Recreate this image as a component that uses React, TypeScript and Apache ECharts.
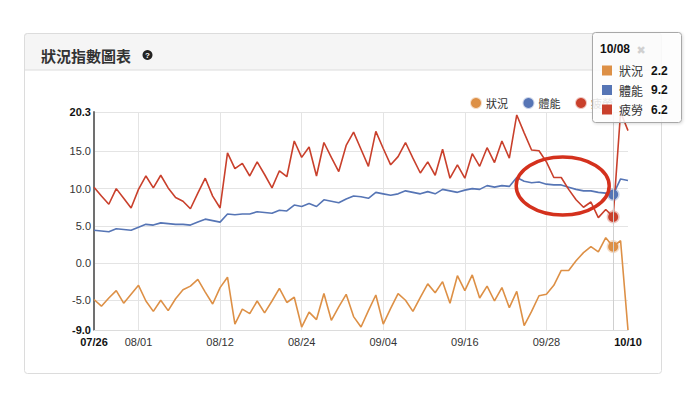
import React, { useEffect, useRef } from 'react';
import * as echarts from 'echarts';

const DATES = [
  '07/26', '07/27', '07/28', '07/29', '07/30', '07/31',
  '08/01', '08/02', '08/03', '08/04', '08/05', '08/06', '08/07', '08/08', '08/09', '08/10', '08/11',
  '08/12', '08/13', '08/14', '08/15', '08/16', '08/17', '08/19', '08/20', '08/21', '08/22', '08/23',
  '08/24', '08/25', '08/26', '08/27', '08/28', '08/29', '08/30', '08/31', '09/01', '09/02', '09/03',
  '09/04', '09/05', '09/06', '09/07', '09/08', '09/09', '09/11', '09/12', '09/13', '09/14', '09/15',
  '09/16', '09/17', '09/18', '09/19', '09/20', '09/21', '09/23', '09/24', '09/25', '09/26', '09/27',
  '09/28', '09/29', '09/30', '10/01', '10/02', '10/04', '10/05', '10/06', '10/07',
  '10/08', '10/09', '10/10',
];

// 狀況
const STATUS = [
  -4.9, -5.8, -4.7, -3.7, -5.4, -4.2, -3.0, -5.1, -6.5, -5.0,
  -6.4, -4.8, -3.6, -3.1, -2.2, -3.9, -5.5, -3.3, -1.9, -8.2,
  -6.2, -6.8, -5.1, -6.7, -5.1, -3.4, -5.3, -4.6, -8.6, -6.6,
  -7.6, -4.1, -7.7, -5.9, -4.2, -7.2, -8.6, -6.4, -4.3, -8.2,
  -6.1, -4.1, -5.0, -6.5, -4.6, -2.8, -4.0, -2.5, -5.4, -1.7,
  -3.7, -1.6, -4.7, -3.1, -5.1, -3.3, -6.0, -3.8, -8.4, -6.5,
  -4.4, -4.2, -3.0, -1.0, -1.0, 0.3, 1.4, 2.2, 1.5, 3.4,
  2.2, 3.0, -9.0,
];

// 體能
const FITNESS = [
  4.4, 4.3, 4.2, 4.6, 4.5, 4.4, 4.8, 5.2, 5.1, 5.4,
  5.3, 5.2, 5.2, 5.1, 5.5, 5.9, 5.7, 5.5, 6.6, 6.5,
  6.6, 6.6, 6.9, 6.8, 6.7, 7.1, 7.0, 7.8, 7.6, 8.0,
  7.6, 8.5, 8.3, 8.1, 8.6, 9.0, 8.9, 8.7, 9.5, 9.3,
  9.1, 9.3, 9.7, 9.5, 9.3, 9.6, 9.3, 9.9, 9.7, 9.5,
  9.8, 10.0, 9.9, 10.4, 10.2, 10.4, 10.3, 11.5, 11.0, 10.8,
  10.9, 10.6, 10.5, 10.5, 10.2, 9.9, 9.7, 9.7, 9.5, 9.4,
  9.2, 11.3, 11.1,
];

// 疲勞
const FATIGUE = [
  10.2, 9.0, 7.9, 10.0, 8.7, 7.4, 9.9, 11.7, 10.1, 11.8,
  10.1, 8.8, 8.3, 7.3, 9.4, 11.4, 9.0, 7.4, 14.8, 12.7,
  13.4, 11.7, 13.6, 11.9, 10.1, 12.4, 11.6, 16.4, 14.2, 15.6,
  11.7, 16.2, 14.2, 12.3, 15.8, 17.6, 15.3, 13.0, 17.7, 15.4,
  13.2, 14.3, 16.2, 14.1, 12.1, 13.6, 11.8, 15.3, 11.4, 13.2,
  11.4, 14.7, 13.0, 15.5, 13.5, 16.4, 14.1, 19.9, 17.5, 15.2,
  15.1, 13.6, 11.5, 11.5, 9.9, 8.5, 7.5, 8.2, 6.1, 7.2,
  6.2, 20.3, 17.8,
];

const SERIES_NAMES = ['狀況', '體能', '疲勞'];
const SERIES_COLORS = ['#dd9046', '#5675b5', '#c9402c'];
const Y_TICKS = [-9, -5, 0, 5, 10, 15, 20.3];
const X_LABEL_DATES = ['07/26', '08/01', '08/12', '08/24', '09/04', '09/16', '09/28', '10/10'];
const X_GRID_DATES = ['08/01', '08/12', '08/24', '09/04', '09/16', '09/28'];
const HOVER_DATE = '10/08';
const TITLE = '狀況指數圖表';

const FONT = '"Liberation Sans", "Noto Sans CJK TC", sans-serif';
const CJK = '"Noto Sans CJK TC", "Liberation Sans", sans-serif';

export default function App() {
  const ref = useRef<HTMLDivElement>(null);

  useEffect(() => {
    if (!ref.current) return;
    const chart = echarts.init(ref.current, null, { renderer: 'svg' });
    const hoverIdx = DATES.indexOf(HOVER_DATE);
    const labelIdx = X_LABEL_DATES.map((d) => DATES.indexOf(d));
    const gridIdx = X_GRID_DATES.map((d) => DATES.indexOf(d));
    const yMin = Y_TICKS[0];
    const yMax = Y_TICKS[Y_TICKS.length - 1];
    const seriesValues = [STATUS, FITNESS, FATIGUE];

    const series: any[] = seriesValues.map((vals, s) => ({
      name: SERIES_NAMES[s],
      type: 'line',
      symbol: 'circle',
      showSymbol: true,
      showAllSymbol: true,
      symbolSize: (_v: any, p: any) => (p.dataIndex === hoverIdx ? 10 : 0),
      silent: true,
      color: SERIES_COLORS[s],
      itemStyle: {
        color: SERIES_COLORS[s],
        borderColor: echarts.color.modifyAlpha(SERIES_COLORS[s], 0.3),
        borderWidth: 3,
      },
      lineStyle: { width: 1.6, color: SERIES_COLORS[s] },
      emphasis: { disabled: true },
      data: vals,
      markLine:
        s === 0
          ? {
              silent: true,
              symbol: ['none', 'none'],
              label: { show: false },
              lineStyle: { color: '#cfcfcf', width: 1, type: 'solid' },
              data: [{ xAxis: HOVER_DATE }],
            }
          : undefined,
    }));

    const tipRows = SERIES_NAMES.map((name, s) => {
      const cy = 70.5 + s * 19.5;
      return [
        {
          type: 'rect',
          z: 101,
          shape: { x: 602, y: cy - 5, width: 10, height: 10 },
          style: { fill: SERIES_COLORS[s] },
        },
        {
          type: 'text',
          z: 101,
          x: 619,
          y: cy,
          style: {
            text: name,
            fill: '#333',
            fontSize: 12,
            fontFamily: CJK,
            verticalAlign: 'middle',
          },
        },
        {
          type: 'text',
          z: 101,
          x: 651,
          y: cy,
          style: {
            text: seriesValues[s][hoverIdx].toFixed(1),
            fill: '#111',
            fontSize: 12,
            fontWeight: 'bold',
            fontFamily: FONT,
            verticalAlign: 'middle',
          },
        },
      ];
    }).flat();

    chart.setOption({
      animation: false,
      textStyle: { fontFamily: FONT },
      grid: { left: 94, right: 72, top: 112, bottom: 73, containLabel: false },
      legend: {
        data: SERIES_NAMES,
        icon: 'circle',
        left: 465,
        top: 92,
        itemWidth: 10,
        itemHeight: 10,
        itemGap: 14.5,
        selectedMode: false,
        textStyle: { fontSize: 11, color: '#333', fontFamily: CJK },
      },
      xAxis: {
        type: 'category',
        data: DATES,
        boundaryGap: false,
        axisLine: { show: true, onZero: false, lineStyle: { color: '#dcdcdc', width: 1 } },
        axisTick: { show: false },
        splitLine: {
          show: true,
          interval: (i: number) => gridIdx.includes(i),
          lineStyle: { color: '#e4e4e4', width: 1 },
        },
        axisLabel: {
          interval: (i: number) => labelIdx.includes(i),
          margin: 6,
          fontSize: 11,
          color: '#333',
          fontFamily: FONT,
          formatter: (v: string, i: number) =>
            i === 0 || i === DATES.length - 1 ? `{b|${v}}` : v,
          rich: { b: { fontWeight: 'bold', fontSize: 11, color: '#111', fontFamily: FONT } },
        },
      },
      yAxis: {
        type: 'value',
        min: yMin,
        max: yMax,
        axisLine: { show: true, lineStyle: { color: '#707070', width: 2 } },
        axisTick: { show: false, customValues: Y_TICKS },
        splitLine: { show: true, lineStyle: { color: '#e4e4e4', width: 1 } },
        axisLabel: {
          customValues: Y_TICKS,
          margin: 3,
          fontSize: 11,
          color: '#333',
          fontFamily: FONT,
          formatter: (v: number) =>
            v === yMin || v === yMax ? `{b|${v.toFixed(1)}}` : v.toFixed(1),
          rich: { b: { fontWeight: 'bold', fontSize: 11, color: '#111', fontFamily: FONT } },
        },
      },
      series,
      graphic: [
        {
          type: 'rect',
          z: -1,
          silent: true,
          shape: { x: 24.5, y: 33.5, width: 637, height: 340, r: 3 },
          style: { fill: 'none', stroke: '#dcdcdc', lineWidth: 1 },
        },
        {
          type: 'rect',
          silent: true,
          shape: { x: 24.5, y: 33.5, width: 637, height: 36.5, r: [3, 3, 0, 0] },
          style: { fill: '#f5f5f5', stroke: '#dcdcdc', lineWidth: 1 },
        },
        {
          type: 'text',
          x: 41,
          y: 55,
          style: {
            text: TITLE,
            fill: '#333',
            fontSize: 15,
            fontWeight: 'bold',
            fontFamily: CJK,
            verticalAlign: 'middle',
          },
        },
        {
          type: 'circle',
          shape: { cx: 147.5, cy: 55, r: 5 },
          style: { fill: '#222' },
        },
        {
          type: 'text',
          x: 147.5,
          y: 55.5,
          style: {
            text: '?',
            fill: '#fff',
            fontSize: 8,
            fontWeight: 'bold',
            fontFamily: FONT,
            align: 'center',
            verticalAlign: 'middle',
          },
        },
        {
          type: 'ellipse',
          z: 50,
          silent: true,
          shape: { cx: 562.7, cy: 186, rx: 46.5, ry: 29 },
          style: { fill: 'none', stroke: '#d4311d', lineWidth: 3.5 },
        },
        {
          type: 'rect',
          z: 100,
          shape: { x: 592.5, y: 32.5, width: 89, height: 90, r: 3 },
          style: {
            fill: 'rgba(255,255,255,0.85)',
            stroke: '#a8a8a8',
            lineWidth: 1,
            shadowBlur: 3,
            shadowColor: 'rgba(0,0,0,0.15)',
            shadowOffsetX: 1,
            shadowOffsetY: 1,
          },
        },
        {
          type: 'text',
          z: 101,
          x: 600,
          y: 49,
          style: {
            text: HOVER_DATE,
            fill: '#111',
            fontSize: 12,
            fontWeight: 'bold',
            fontFamily: FONT,
            verticalAlign: 'middle',
          },
        },
        {
          type: 'text',
          z: 101,
          x: 641,
          y: 50,
          style: {
            text: '✖',
            fill: '#d0d0d0',
            fontSize: 11,
            fontFamily: '"DejaVu Sans", sans-serif',
            align: 'center',
            verticalAlign: 'middle',
          },
        },
        ...tipRows,
      ],
    });

    return () => chart.dispose();
  }, []);

  return (
    <div
      ref={ref}
      style={{ position: 'absolute', left: 0, top: 0, width: 700, height: 403, background: '#fff' }}
    />
  );
}
